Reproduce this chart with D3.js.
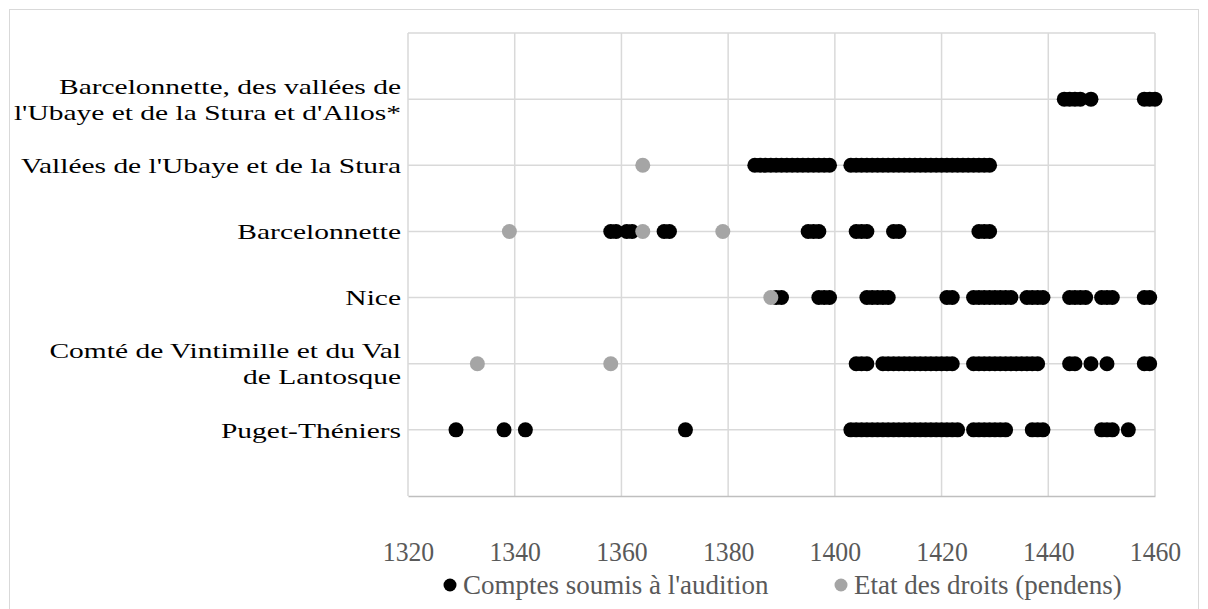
<!DOCTYPE html>
<html>
<head>
<meta charset="utf-8">
<script src="https://cdn.jsdelivr.net/npm/d3@7"></script>
<style>
  html, body { margin: 0; padding: 0; background: #fff; }
  svg { display: block; }
  svg text { font-family: "Liberation Serif", "Times New Roman", serif; }
</style>
</head>
<body>
<svg id="chart" width="1208" height="609"></svg>
<script>
// Regions, from the bottom row (1) to the top row (6)
const categories = [
  "Puget-Théniers",
  "Comté de Vintimille et du Val de Lantosque",
  "Nice",
  "Barcelonnette",
  "Vallées de l'Ubaye et de la Stura",
  "Barcelonnette, des vallées de l'Ubaye et de la Stura et d'Allos*"
];
// Wrapped label lines for each row
const categoryLines = [
  ["Puget-Théniers"],
  ["Comté de Vintimille et du Val", "de Lantosque"],
  ["Nice"],
  ["Barcelonnette"],
  ["Vallées de l'Ubaye et de la Stura"],
  ["Barcelonnette, des vallées de", "l'Ubaye et de la Stura et d'Allos*"]
];

const seriesNames = ["Comptes soumis à l'audition", "Etat des droits (pendens)"];

// Years with audited accounts, per row
const comptesPuget = [1329, 1338, 1342, 1372,
  1403, 1404, 1405, 1406, 1407, 1408, 1409, 1410, 1411, 1412, 1413, 1414, 1415, 1416, 1417, 1418, 1419, 1420, 1421, 1422, 1423,
  1426, 1427, 1428, 1429, 1430, 1431, 1432, 1437, 1438, 1439, 1450, 1451, 1452, 1455];
const comptesComte = [1404, 1405, 1406,
  1409, 1410, 1411, 1412, 1413, 1414, 1415, 1416, 1417, 1418, 1419, 1420, 1421, 1422,
  1426, 1427, 1428, 1429, 1430, 1431, 1432, 1433, 1434, 1435, 1436, 1437, 1438,
  1444, 1445, 1448, 1451, 1458, 1459];
const comptesNice = [1389, 1390, 1397, 1398, 1399, 1406, 1407, 1408, 1409, 1410, 1421, 1422,
  1426, 1427, 1428, 1429, 1430, 1431, 1432, 1433, 1436, 1437, 1438, 1439,
  1444, 1445, 1446, 1447, 1450, 1451, 1452, 1458, 1459];
const comptesBarcelonnette = [1358, 1359, 1361, 1362, 1368, 1369, 1395, 1396, 1397,
  1404, 1405, 1406, 1411, 1412, 1427, 1428, 1429];
const comptesVallees = [1385, 1386, 1387, 1388, 1389, 1390, 1391, 1392, 1393, 1394, 1395, 1396, 1397, 1398, 1399,
  1403, 1404, 1405, 1406, 1407, 1408, 1409, 1410, 1411, 1412, 1413, 1414, 1415, 1416, 1417, 1418, 1419, 1420,
  1421, 1422, 1423, 1424, 1425, 1426, 1427, 1428, 1429];
const comptesAllos = [1443, 1444, 1445, 1446, 1448, 1458, 1459, 1460];

// Years with a statement of dues (pendens), per row
const etatPuget = [];
const etatComte = [1333, 1358];
const etatNice = [1388];
const etatBarcelonnette = [1339, 1364, 1379];
const etatVallees = [1364];
const etatAllos = [];

const comptesByRow = [comptesPuget, comptesComte, comptesNice, comptesBarcelonnette, comptesVallees, comptesAllos];
const etatByRow = [etatPuget, etatComte, etatNice, etatBarcelonnette, etatVallees, etatAllos];

const xTicks = [1320, 1340, 1360, 1380, 1400, 1420, 1440, 1460];
const yGrid = [0, 1, 2, 3, 4, 5, 6, 7];

const colors = ["#000000", "#a5a5a5"];

const svg = d3.select("#chart");
const W = 1208, H = 609;
const plot = { left: 408, right: 1155, top: 33, bottom: 496 };

// chart frame
svg.append("rect")
  .attr("x", 9.5).attr("y", 9.5)
  .attr("width", W - 19).attr("height", H + 20)
  .attr("fill", "#fff").attr("stroke", "#d9d9d9").attr("stroke-width", 1);

const x = d3.scaleLinear().domain([1320, 1460]).range([plot.left, plot.right]);
const y = d3.scaleLinear().domain([0, 7]).range([plot.bottom, plot.top]);

// vertical gridlines
svg.append("g")
  .selectAll("line").data(xTicks).join("line")
  .attr("x1", d => x(d)).attr("x2", d => x(d))
  .attr("y1", plot.top).attr("y2", plot.bottom)
  .attr("stroke", "#d9d9d9").attr("stroke-width", 1.5);

// horizontal gridlines
svg.append("g")
  .selectAll("line").data(yGrid.filter(d => d > 0)).join("line")
  .attr("x1", plot.left).attr("x2", plot.right)
  .attr("y1", d => y(d)).attr("y2", d => y(d))
  .attr("stroke", "#d9d9d9").attr("stroke-width", 1.5);

// x axis (narrow numerals)
const xAxis = svg.append("g")
  .attr("transform", `translate(0,${plot.bottom})`)
  .call(d3.axisBottom(x).tickValues(xTicks).tickFormat(d3.format("d")).tickSize(0).tickPadding(0));
xAxis.attr("font-family", null).attr("font-size", null);
xAxis.select(".domain").attr("stroke", "#bfbfbf").attr("stroke-width", 1.5);
xAxis.selectAll(".tick text")
  .attr("y", 0).attr("dy", "0.35em")
  .attr("transform", "translate(0,55) scale(0.92,1)")
  .style("font-size", "28px").attr("fill", "#595959");

// category labels (wide setting)
const labelG = svg.append("g").attr("fill", "#000");
const lh = 26;
categoryLines.forEach((lines, i) => {
  const cy = y(i + 1);
  const g = labelG.append("g")
    .attr("transform", `translate(401,${cy - (lines.length - 1) * lh / 2}) scale(1.34,1)`);
  const t = g.append("text")
    .attr("text-anchor", "end")
    .style("font-size", "22px");
  lines.forEach((ln, k) => {
    t.append("tspan").attr("x", 0).attr("dy", k === 0 ? "0.35em" : lh).text(ln);
  });
});

// points
const r = 7.5;
const ptsG = svg.append("g");
[comptesByRow, etatByRow].forEach((rows, s) => {
  const data = rows.flatMap((years, i) => years.map(yr => ({ yr, row: i + 1 })));
  ptsG.append("g").selectAll("circle").data(data).join("circle")
    .attr("cx", d => x(d.yr)).attr("cy", d => y(d.row))
    .attr("r", r).attr("fill", colors[s]);
});

// legend
const legend = svg.append("g").attr("fill", "#595959");
const legendX = [450, 841];
const legendY = 585;
seriesNames.forEach((name, i) => {
  legend.append("circle").attr("cx", legendX[i]).attr("cy", legendY).attr("r", 6.5).attr("fill", colors[i]);
  legend.append("text")
    .attr("x", legendX[i] + 13).attr("y", legendY).attr("dy", "0.35em")
    .style("font-size", "27px").text(name);
});
</script>
</body>
</html>
